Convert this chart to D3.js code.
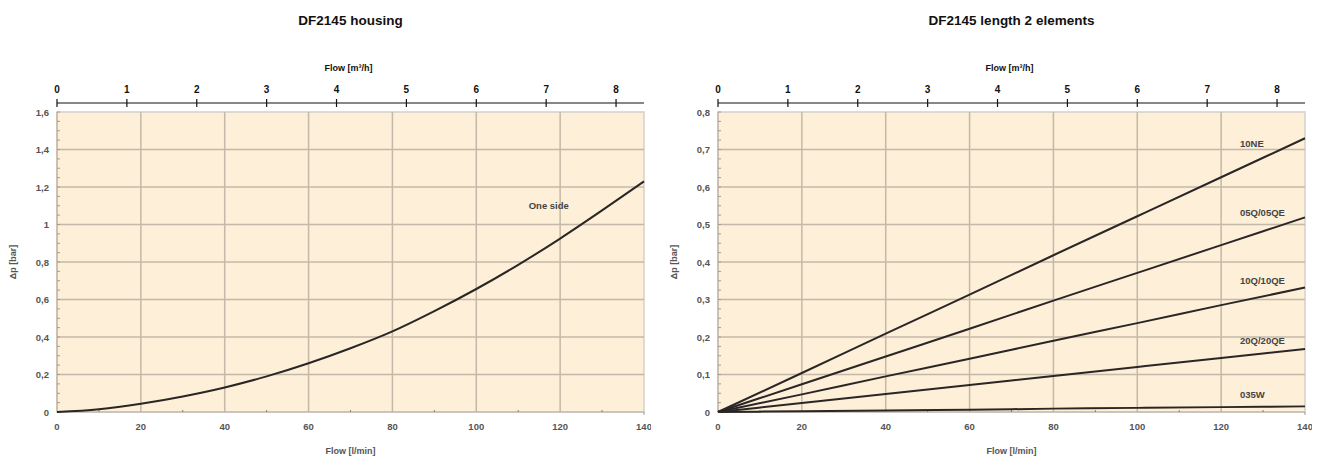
<!DOCTYPE html>
<html><head><meta charset="utf-8">
<script src="https://cdn.jsdelivr.net/npm/d3@7"></script>
<style>
body{margin:0;background:#fff;}
text{font-family:"Liberation Sans",Arial,sans-serif;}
</style></head>
<body>
<svg id="c" width="1325" height="463"></svg>
<script>
// ---- data ----
const flowLmin = [0, 10, 20, 30, 40, 50, 60, 70, 80, 90, 100, 110, 120, 130, 140];
const oneSide  = [0, 0.015, 0.044, 0.083, 0.131, 0.19, 0.26, 0.34, 0.43, 0.538, 0.656, 0.785, 0.925, 1.075, 1.23];

const flowLmin2 = [0, 20, 40, 60, 80, 100, 120, 140];
const s10NE  = [0, 0.104, 0.209, 0.313, 0.418, 0.522, 0.626, 0.73];
const s05Q   = [0, 0.074, 0.148, 0.222, 0.297, 0.371, 0.445, 0.519];
const s10Q   = [0, 0.047, 0.095, 0.142, 0.19, 0.237, 0.285, 0.332];
const s20Q   = [0, 0.024, 0.048, 0.072, 0.096, 0.12, 0.144, 0.168];
const s035W  = [0, 0.002, 0.004, 0.006, 0.009, 0.011, 0.013, 0.015];

const leftSeries = [{name:"One side", x: flowLmin, y: oneSide}];
const rightSeries = [
  {name:"10NE", x: flowLmin2, y: s10NE},
  {name:"05Q/05QE", x: flowLmin2, y: s05Q},
  {name:"10Q/10QE", x: flowLmin2, y: s10Q},
  {name:"20Q/20QE", x: flowLmin2, y: s20Q},
  {name:"035W", x: flowLmin2, y: s035W}
];
const bottomTicks = [0, 20, 40, 60, 80, 100, 120, 140];
const topTicks = [0, 1, 2, 3, 4, 5, 6, 7, 8];
const leftYTicks = [0, 0.2, 0.4, 0.6, 0.8, 1, 1.2, 1.4, 1.6];
const rightYTicks = [0, 0.1, 0.2, 0.3, 0.4, 0.5, 0.6, 0.7, 0.8];

const svg = d3.select("#c");
const fmt = v => String(+v.toFixed(2)).replace(".", ",");

function panel(o){
  const g = svg.append("g");
  const x = d3.scaleLinear().domain([0,140]).range([o.x0, o.x1]);
  const xt = d3.scaleLinear().domain([0,8.4]).range([o.x0, o.x1]);
  const y = d3.scaleLinear().domain([0,o.ymax]).range([o.y1, o.y0]);
  const cx = (o.x0+o.x1)/2;

  g.append("text").attr("x", cx).attr("y", 25).attr("text-anchor","middle")
    .attr("font-size", 13.5).attr("font-weight","bold").attr("fill","#111").text(o.title);

  // background
  g.append("rect").attr("x",o.x0).attr("y",o.y0).attr("width",o.x1-o.x0).attr("height",o.y1-o.y0)
    .attr("fill","#fdefd8").attr("stroke","#d4d0cc").attr("stroke-width",1.5);

  // grid
  g.append("g").selectAll("line").data(bottomTicks.slice(1,-1)).join("line")
    .attr("x1",d=>x(d)).attr("x2",d=>x(d)).attr("y1",o.y0).attr("y2",o.y1)
    .attr("stroke","#c4b9a8").attr("stroke-width",1.5);
  g.append("g").selectAll("line").data(o.yticks.slice(1,-1)).join("line")
    .attr("x1",o.x0).attr("x2",o.x1).attr("y1",d=>y(d)).attr("y2",d=>y(d))
    .attr("stroke","#c4b9a8").attr("stroke-width",1.5);
  // left & bottom edges
  g.append("line").attr("x1",o.x0).attr("x2",o.x0).attr("y1",o.y0).attr("y2",o.y1)
    .attr("stroke","#c4b9a8").attr("stroke-width",1.5);
  g.append("line").attr("x1",o.x0).attr("x2",o.x1).attr("y1",o.y1).attr("y2",o.y1)
    .attr("stroke","#b8b0a6").attr("stroke-width",1.2);
  // minor ticks on y
  const minor = d3.range(0, o.ymax + 1e-9, o.ymax/32);
  g.append("g").selectAll("line").data(minor).join("line")
    .attr("x1",o.x0).attr("x2",o.x0+3).attr("y1",d=>y(d)).attr("y2",d=>y(d))
    .attr("stroke","#a89c8a").attr("stroke-width",1);
  // minor ticks on x
  g.append("g").selectAll("line").data(d3.range(10,140,20)).join("line")
    .attr("x1",d=>x(d)).attr("x2",d=>x(d)).attr("y1",o.y1-2).attr("y2",o.y1)
    .attr("stroke","#8a8070").attr("stroke-width",1);
  g.append("line").attr("x1",o.x1).attr("x2",o.x1).attr("y1",o.y1).attr("y2",o.y1+3)
    .attr("stroke","#999").attr("stroke-width",1);

  // y labels
  g.append("g").selectAll("text").data(o.yticks).join("text")
    .attr("x",o.x0-8).attr("y",d=>y(d)+3.5).attr("text-anchor","end")
    .attr("font-size",9.5).attr("font-weight","bold").attr("fill","#555").text(fmt);

  // bottom labels (clipped like reference)
  const clipId = "clip"+o.id;
  svg.append("clipPath").attr("id",clipId).append("rect")
    .attr("x",o.x0-20).attr("y",o.y1).attr("width",o.x1-o.x0+27).attr("height",40);
  g.append("g").attr("clip-path",`url(#${clipId})`).selectAll("text").data(bottomTicks).join("text")
    .attr("x",d=>x(d)).attr("y",o.y1+18).attr("text-anchor","middle")
    .attr("font-size",9.5).attr("font-weight","bold").attr("fill","#555").text(d=>d);

  g.append("text").attr("x",cx).attr("y",o.y1+42).attr("text-anchor","middle")
    .attr("font-size",9).attr("font-weight","bold").attr("fill","#555").text("Flow [l/min]");

  // y title
  g.append("text").attr("transform",`translate(${o.x0-41},${(o.y0+o.y1)/2}) rotate(-90)`)
    .attr("text-anchor","middle").attr("font-size",9).attr("font-weight","bold").attr("fill","#555").text("Δp [bar]");

  // top axis
  const ty = 103;
  const ta = g.append("g").attr("transform",`translate(0,${ty})`);
  ta.append("line").attr("x1",o.x0).attr("x2",o.x1).attr("y1",0).attr("y2",0).attr("stroke","#111").attr("stroke-width",1.2);
  ta.selectAll("line.t").data(topTicks).join("line").attr("class","t")
    .attr("x1",d=>xt(d)).attr("x2",d=>xt(d)).attr("y1",-4).attr("y2",4).attr("stroke","#111").attr("stroke-width",1.2);
  ta.selectAll("text").data(topTicks).join("text")
    .attr("x",d=>xt(d)).attr("y",-10).attr("text-anchor","middle")
    .attr("font-size",10).attr("font-weight","bold").attr("fill","#111").text(d=>d);
  g.append("text").attr("x",cx-2).attr("y",71).attr("text-anchor","middle")
    .attr("font-size",9).attr("font-weight","bold").attr("fill","#111")
    .text("Flow [m³/h]");

  // series
  const line = d3.line().x(d=>x(d[0])).y(d=>y(d[1])).curve(d3.curveMonotoneX);
  o.series.forEach(s=>{
    g.append("path").datum(s.x.map((v,i)=>[v,s.y[i]]))
      .attr("d",line).attr("fill","none").attr("stroke","#2a2626").attr("stroke-width",2);
  });
  o.labels.forEach(l=>{
    g.append("text").attr("x",x(l.x)).attr("y",y(l.y)+3.5)
      .attr("font-size",9.5).attr("font-weight","bold").attr("fill","#444").text(l.t);
  });
}

panel({id:"L", title:"DF2145 housing", x0:57, x1:644, y0:112, y1:412, ymax:1.6, yticks:leftYTicks,
  series:leftSeries, labels:[{t:"One side", x:112.5, y:1.1}]});
panel({id:"R", title:"DF2145 length 2 elements", x0:718, x1:1305, y0:112, y1:412, ymax:0.8, yticks:rightYTicks,
  series:rightSeries, labels:[
    {t:"10NE", x:124.5, y:0.717},
    {t:"05Q/05QE", x:124.5, y:0.533},
    {t:"10Q/10QE", x:124.5, y:0.35},
    {t:"20Q/20QE", x:124.5, y:0.19},
    {t:"035W", x:124.5, y:0.047}
  ]});
</script>
</body></html>
